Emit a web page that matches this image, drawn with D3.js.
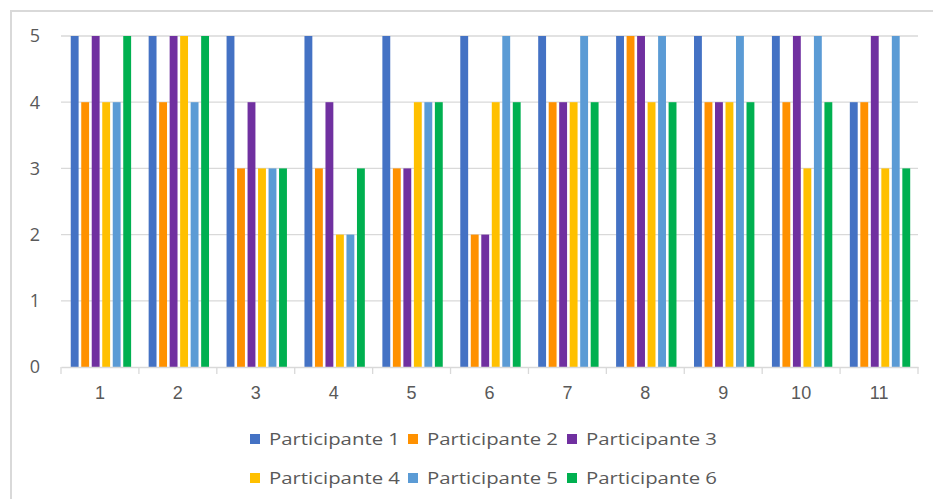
<!DOCTYPE html>
<html>
<head>
<meta charset="utf-8">
<script src="https://cdn.jsdelivr.net/npm/d3@7"></script>
<style>
  body { margin: 0; background: #fff; }
  svg { display: block; font-family: "Open Sans", "Noto Sans", sans-serif; }
  .grid line { stroke: #d9d9d9; stroke-width: 1.3px; }
  .tick-label { fill: #595959; font-size: 18px; }
  .legend text { fill: #595959; font-size: 17px; }
</style>
</head>
<body>
<div id="chart"></div>
<script>
// data
var categories = ['1', '2', '3', '4', '5', '6', '7', '8', '9', '10', '11'];
var seriesNames = ['Participante 1', 'Participante 2', 'Participante 3',
                   'Participante 4', 'Participante 5', 'Participante 6'];
var p1 = [5, 5, 5, 5, 5, 5, 5, 5, 5, 5, 4];
var p2 = [4, 4, 3, 3, 3, 2, 4, 5, 4, 4, 4];
var p3 = [5, 5, 4, 4, 3, 2, 4, 5, 4, 5, 5];
var p4 = [4, 5, 3, 2, 4, 4, 4, 4, 4, 3, 3];
var p5 = [4, 4, 3, 2, 4, 5, 5, 5, 5, 5, 5];
var p6 = [5, 5, 3, 3, 4, 4, 4, 4, 4, 4, 3];
var yTicks = [0, 1, 2, 3, 4, 5];
var colors = ['#4472C4', '#FF9100', '#7030A0', '#FFC000', '#5B9BD5', '#00B050'];

var seriesValues = [p1, p2, p3, p4, p5, p6];

var width = 933, height = 499;
var margin = {top: 36, right: 15, bottom: 132, left: 61};
var plotW = width - margin.left - margin.right;   // 857
var plotH = height - margin.top - margin.bottom;  // ~331

var svg = d3.select('#chart').append('svg')
  .attr('width', width)
  .attr('height', height);

// chart frame (only the top and left edges are visible in the reference)
svg.append('rect')
  .attr('x', 11).attr('y', 11)
  .attr('width', width).attr('height', height)
  .attr('fill', 'none')
  .attr('stroke', '#d9d9d9')
  .attr('stroke-width', 2);

var g = svg.append('g')
  .attr('transform', 'translate(' + margin.left + ',' + margin.top + ')');

var x0 = d3.scaleBand().domain(categories).range([0, plotW]).padding(0);
var x1 = d3.scaleBand().domain(seriesNames)
  .range([x0.bandwidth() * 0.125, x0.bandwidth() * 0.9])
  .paddingInner(0.25).paddingOuter(0);
var y = d3.scaleLinear().domain([0, 5]).range([plotH, 0]);

// gridlines
g.append('g').attr('class', 'grid')
  .selectAll('line')
  .data(yTicks.filter(function(d) { return d > 0; }))
  .enter().append('line')
  .attr('x1', 0).attr('x2', plotW)
  .attr('y1', function(d) { return y(d); })
  .attr('y2', function(d) { return y(d); });

// y labels
g.append('g').selectAll('text')
  .data(yTicks)
  .enter().append('text')
  .attr('class', 'tick-label')
  .attr('x', -21)
  .attr('y', function(d) { return y(d); })
  .attr('dy', '0.36em')
  .attr('text-anchor', 'end')
  .text(function(d) { return d; });

// bars
var groups = g.append('g').selectAll('g')
  .data(categories)
  .enter().append('g')
  .attr('transform', function(d) { return 'translate(' + x0(d) + ',0)'; });

groups.selectAll('rect')
  .data(function(d, i) {
    return seriesNames.map(function(s, j) {
      return {series: s, value: seriesValues[j][i], color: colors[j]};
    });
  })
  .enter().append('rect')
  .attr('x', function(d) { return x1(d.series); })
  .attr('width', x1.bandwidth())
  .attr('y', function(d) { return y(d.value); })
  .attr('height', function(d) { return plotH - y(d.value); })
  .attr('fill', function(d) { return d.color; });

// x axis
var xAxis = g.append('g')
  .attr('transform', 'translate(0,' + plotH + ')')
  .call(d3.axisBottom(x0).tickSize(0).tickPadding(19));
xAxis.select('.domain').attr('stroke', '#d9d9d9').attr('stroke-width', 1.3);
xAxis.selectAll('text')
  .attr('class', 'tick-label')
  .attr('font-size', null)
  .attr('font-family', null);

// category boundary ticks
xAxis.append('g').selectAll('line')
  .data(d3.range(categories.length + 1))
  .enter().append('line')
  .attr('x1', function(i) { return i * x0.step(); })
  .attr('x2', function(i) { return i * x0.step(); })
  .attr('y1', 0).attr('y2', 7)
  .attr('stroke', '#d9d9d9').attr('stroke-width', 1.3);

// legend
var legendX = [250, 408, 567];
var legendY = [439, 478];
var legend = svg.append('g').attr('class', 'legend')
  .selectAll('g')
  .data(seriesNames)
  .enter().append('g')
  .attr('transform', function(d, i) {
    return 'translate(' + legendX[i % 3] + ',' + legendY[Math.floor(i / 3)] + ')';
  });

legend.append('rect')
  .attr('x', 0).attr('y', -5)
  .attr('width', 10).attr('height', 10)
  .attr('fill', function(d, i) { return colors[i]; });

// the reference's labels are drawn a little wide, so stretch to its width
legend.append('text')
  .attr('x', 19)
  .attr('dy', '0.36em')
  .attr('textLength', 131)
  .attr('lengthAdjust', 'spacingAndGlyphs')
  .text(function(d) { return d; });
</script>
</body>
</html>
